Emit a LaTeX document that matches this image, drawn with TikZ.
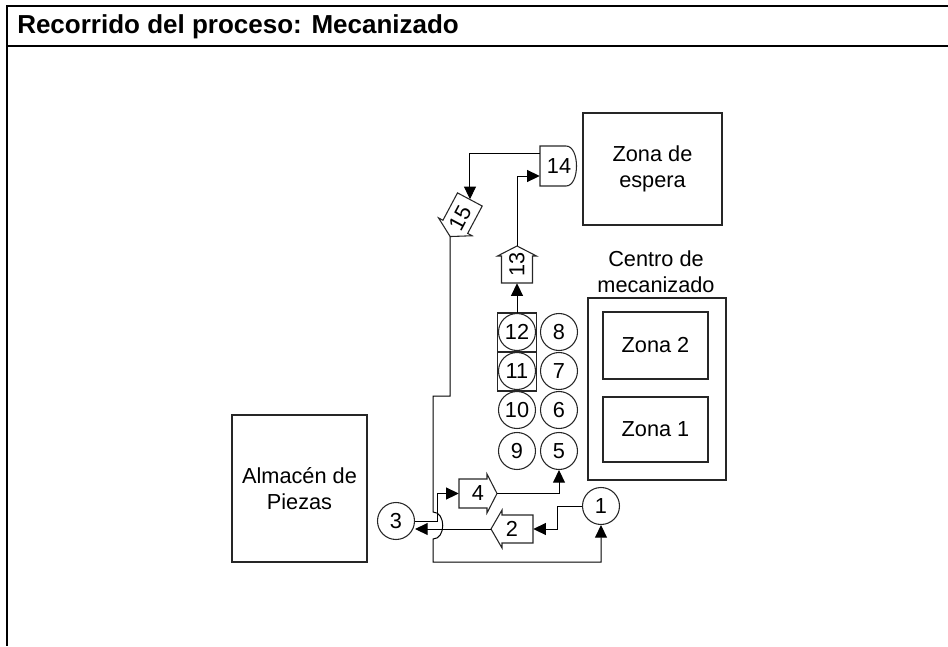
\documentclass[tikz,border=0pt]{standalone}
\usepackage{fontspec}
\setmainfont{Liberation Sans}
\usetikzlibrary{arrows.meta,calc}
\begin{document}
\begin{tikzpicture}[x=0.75pt,y=-0.75pt,
  every node/.style={font=\fontsize{16.3}{19.5}\selectfont, inner sep=0pt},
  box/.style={draw=black!85, line width=0.8pt, rectangle},
  circ/.style={draw=black!85, line width=0.8pt, circle, minimum size=27.75pt},
  flow/.style={draw=black, line width=0.75pt, -{Triangle[length=9.5pt,width=9pt]}},
  outline/.style={draw=black!85, line width=0.8pt, line join=miter},
  frame/.style={line width=1.5pt}
]
\useasboundingbox (0,0) rectangle (948,646);

% frame
\draw[frame] (948,6) -- (7,6) -- (7,646);
\draw[frame] (7,46) -- (948,46);
\node[anchor=west, font=\bfseries\fontsize{19.5}{22}\selectfont] (title) at (17,27) {Recorrido del proceso: Mecanizado};

% boxes
\node[box, minimum width=101.25pt, minimum height=110.25pt, align=center] (alm) at (299.5,488.5) {Almacén de\\Piezas};
\node[box, minimum width=104.25pt, minimum height=84pt, align=center] (esp) at (652.5,169) {Zona de\\espera};
\node[align=center] (lblc) at (656,272) {Centro de\\mecanizado};
\node[box, minimum width=103.5pt, minimum height=136.5pt] (cen) at (657,389) {};
\node[box, minimum width=78.75pt, minimum height=50.25pt] (z2) at (655.5,345.5) {Zona 2};
\node[box, minimum width=78.75pt, minimum height=48.75pt] (z1) at (655.5,429.5) {Zona 1};

% inspection squares
\node[box, minimum size=29.25pt] (sq12) at (517,332.5) {};
\node[box, minimum size=29.25pt] (sq11) at (517,371.5) {};

% circles
\node[circ] (n1) at (601,506) {1};
\node[circ] (n3) at (396,521) {3};
\node[circ] (n5) at (559,451) {5};
\node[circ] (n6) at (559,410) {6};
\node[circ] (n7) at (559,371) {7};
\node[circ] (n8) at (559,332) {8};
\node[circ] (n9) at (517,451) {9};
\node[circ] (n10) at (517,410) {10};
\node[circ] (n11) at (517,371) {11};
\node[circ] (n12) at (517,332) {12};

% transport arrows
\node[minimum width=31.5pt, minimum height=28.5pt] (n2) at (512,529) {2};
\begin{scope}[shift={(n2.center)}]
\draw[outline] (21,-14) -- (-10,-14) -- (-10,-19) -- (-21,0) -- (-10,19) -- (-10,14) -- (21,14) -- cycle;
\end{scope}

\node[minimum width=28.5pt, minimum height=29.25pt] (n4) at (478,493.5) {4};
\begin{scope}[shift={(n4.center)}]
\draw[outline] (-19,-14.5) -- (9,-14.5) -- (9,-19.5) -- (19,0) -- (9,19.5) -- (9,14.5) -- (-19,14.5) -- cycle;
\end{scope}

\node[rotate=90, minimum width=27.75pt, minimum height=29.25pt] (n13) at (517,264.5) {13};
\begin{scope}[shift={(n13.center)}, rotate=90]
\draw[outline] (-18.5,-15.5) -- (8.5,-15.5) -- (8.5,-19.5) -- (18.5,0) -- (8.5,19.5) -- (8.5,15.5) -- (-18.5,15.5) -- cycle;
\end{scope}

\node[rotate=62, minimum width=31.5pt, minimum height=28.5pt] (n15) at (460,218) {15};
\begin{scope}[shift={(n15.center)}, rotate=62]
\draw[outline] (21,-14) -- (-10,-14) -- (-10,-19) -- (-21,0) -- (-10,19) -- (-10,14) -- (21,14) -- cycle;
\end{scope}

% delay
\node[minimum width=28.5pt, minimum height=30pt] (n14) at (559,166) {14};
\begin{scope}[shift={(n14.center)}]
\draw[outline] (-19,-20) -- (7,-20) .. controls (21,-20) and (21,20) .. (7,20) -- (-19,20) -- cycle;
\end{scope}

% connectors
\draw[flow] (n1.west) -- (557,506) |- (n2.east);
\draw[flow] (n2.west) -- (n2.west -| n3.east);
\draw[flow] (n3.east) -- (437,521) |- (n4.west);
\draw[flow] (n4.east) -| (n5.south);
\draw[flow] (n12.north) -- (n13.west);
\draw[flow] (n13.east) |- ($(n14.west)+(0,10)$);
\draw[flow] ($(n14.west)+(0,-13)$) -| (n15.east);
\coordinate (j1) at (433,512);
\coordinate (j2) at (433,539);
\draw[flow] (n15.west) |- (433,396) -- (j1) .. controls (446,512) and (446,539) .. (j2) -- (433,562) -| (n1.south);

\end{tikzpicture}
\end{document}
